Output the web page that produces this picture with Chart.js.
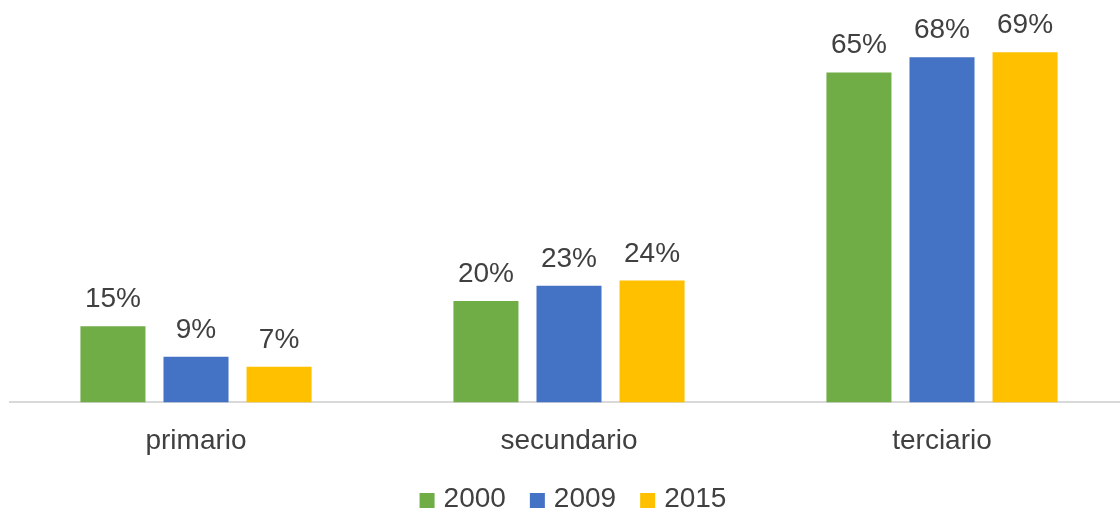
<!DOCTYPE html>
<html>
<head>
<meta charset="utf-8">
<script src="https://cdn.jsdelivr.net/npm/chart.js@4/dist/chart.umd.min.js"></script>
<style>
html,body{margin:0;padding:0;background:#fff;overflow:hidden;width:1120px;height:515px;}
#wrap{position:absolute;left:0;top:0;width:1130px;height:515px;}
</style>
</head>
<body>
<div id="wrap"><canvas id="c" width="1130" height="515"></canvas></div>
<script>
const categories = ['primario', 'secundario', 'terciario'];
const seriesNames = ['2000', '2009', '2015'];
const values2000 = [15, 20, 65];
const values2009 = [9, 23, 68];
const values2015 = [7, 24, 69];
const seriesColors = ['#70AD47', '#4472C4', '#FFC000'];

const FONT = "'Liberation Sans', Arial, sans-serif";
const TEXT = '#404040';

const labelPlugin = {
  id: 'valueLabels',
  afterDatasetsDraw(chart) {
    const ctx = chart.ctx;
    ctx.save();
    ctx.font = '28px ' + FONT;
    ctx.fillStyle = TEXT;
    ctx.textAlign = 'center';
    ctx.textBaseline = 'alphabetic';
    chart.data.datasets.forEach((ds, i) => {
      const meta = chart.getDatasetMeta(i);
      meta.data.forEach((bar, j) => {
        ctx.fillText(ds.data[j] + '%', bar.x, bar.y - 19);
      });
    });
    ctx.restore();
  }
};

const legendPlugin = {
  id: 'bottomLegend',
  afterDraw(chart) {
    const ctx = chart.ctx;
    const box = 15, gapText = 9, gapItem = 24;
    ctx.save();
    ctx.font = '28px ' + FONT;
    const widths = chart.data.datasets.map(ds => ctx.measureText(ds.label).width);
    let total = 0;
    widths.forEach((w, i) => { total += box + gapText + w + (i > 0 ? gapItem : 0); });
    const center = (chart.chartArea.left + chart.chartArea.right) / 2 + 4;
    let x = center - total / 2;
    const yMid = 499;
    ctx.textBaseline = 'middle';
    ctx.textAlign = 'left';
    chart.data.datasets.forEach((ds, i) => {
      ctx.fillStyle = ds.backgroundColor;
      ctx.fillRect(x, yMid - 6, box, box);
      ctx.fillStyle = TEXT;
      ctx.fillText(ds.label, x + box + gapText, yMid);
      x += box + gapText + widths[i] + gapItem;
    });
    ctx.restore();
  }
};

new Chart(document.getElementById('c'), {
  type: 'bar',
  data: {
    labels: categories,
    datasets: [
      { label: seriesNames[0], data: values2000, backgroundColor: seriesColors[0] },
      { label: seriesNames[1], data: values2009, backgroundColor: seriesColors[1] },
      { label: seriesNames[2], data: values2015, backgroundColor: seriesColors[2] }
    ]
  },
  options: {
    responsive: false,
    animation: false,
    events: [],
    layout: { padding: { left: 9.5, right: 1.5, top: 6.5, bottom: 35 } },
    datasets: { bar: { categoryPercentage: 0.668, barPercentage: 0.783 } },
    scales: {
      x: {
        grid: { display: false, drawTicks: false },
        border: { display: true, color: '#D9D9D9', width: 2 },
        ticks: { color: TEXT, font: { family: FONT, size: 28 }, padding: 22 }
      },
      y: { display: false, min: 0, max: 78 }
    },
    plugins: {
      tooltip: { enabled: false },
      legend: { display: false }
    }
  },
  plugins: [labelPlugin, legendPlugin]
});
</script>
</body>
</html>
